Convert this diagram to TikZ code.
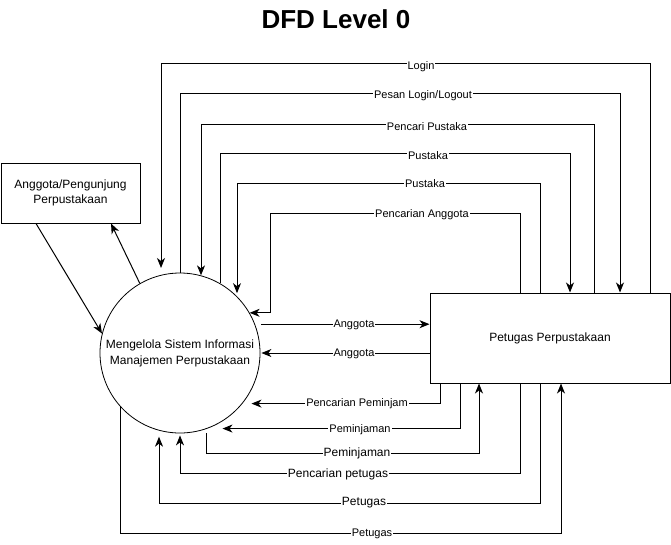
\documentclass[tikz,border=0pt]{standalone}
\usepackage{fontspec}
\setmainfont{Liberation Sans}
\usetikzlibrary{arrows.meta,positioning}

\begin{document}
\begin{tikzpicture}[x=1pt,y=-1pt,
  flow/.style={draw,line width=1pt,-{Stealth[length=10pt,width=8pt,inset=3pt]}},
  lbl/.style={fill=white,inner sep=1pt,font=\fontsize{11}{13}\selectfont},
  lblbig/.style={lbl,font=\fontsize{12}{14}\selectfont},
  entity/.style={draw,line width=1pt,align=center,font=\fontsize{12}{15}\selectfont},
  process/.style={draw,circle,line width=0.8pt,minimum size=160pt,inner sep=0pt,
    align=center,font=\fontsize{12}{16}\selectfont}]
  \useasboundingbox (0,0) rectangle (671,544);
  % title, process and the two entities
  \node[anchor=base,font=\bfseries\fontsize{26}{30}\selectfont] (title) at (336,28) {DFD Level 0};
  \node[process] (sim) at (180,353) {Mengelola Sistem Informasi\\Manajemen Perpustakaan};
  \node[entity,minimum width=139pt,minimum height=60pt] (member) at (70.5,193)
    {Anggota/Pengunjung\\Perpustakaan};
  \node[entity,minimum width=240pt,minimum height=90pt] (staff) at (550,338) {Petugas Perpustakaan};
  % flows over the top
  \draw[flow,shorten >=7pt] (staff.north -| 650,0) |- (161,63) -- (161,0 |- sim.104)
    node[lbl] at (421,67) {Login};
  \draw[flow] (sim.north) |- (620,93) -- (staff.north -| 620,0)
    node[lbl] at (423,96) {Pesan Login/Logout};
  \draw[flow] (staff.north -| 594,0) |- (201,124) -- (201,0 |- sim.75)
    node[lbl] at (427,127) {Pencari Pustaka};
  \draw[flow] (220,0 |- sim.60) |- (570,153) -- (staff.north -| 570,0)
    node[lbl] at (428,156) {Pustaka};
  \draw[flow,shorten >=3pt] (staff.north -| 540,0) |- (237,183) -- (237,0 |- sim.45)
    node[lbl] at (425,184) {Pustaka};
  \draw[flow] (staff.north -| 520,0) |- (270,213) |- (sim.30)
    node[lbl] at (422,215) {Pencarian Anggota};
  % straight flows
  \draw[flow,shorten <=6pt] (sim.21) -- (sim.21 -| staff.west)
    node[lbl] at (354,325) {Anggota};
  \draw[flow,shorten >=1pt] (staff.west |- sim.east) -- (sim.east)
    node[lbl] at (354,354) {Anggota};
  \draw[flow] (36,0 |- member.south) -- (sim.166);
  \draw[flow] (sim.120) -- (111,0 |- member.south);
  % flows under the bottom
  \draw[flow,shorten >=9pt] (staff.south -| 440,0) |- (sim.-39)
    node[lbl] at (357,404) {Pencarian Peminjam};
  \draw[flow,shorten >=15pt] (staff.south -| 460,0) |- (sim.-70)
    node[lbl] at (360,430) {Peminjaman};
  \draw[flow,shorten <=4pt] (206,0 |- sim.-71) |- (479,453) -- (staff.south -| 479,0)
    node[lblbig] at (357,453) {Peminjaman};
  \draw[flow,shorten >=2pt] (staff.south -| 520,0) |- (180,473) -- (sim.south)
    node[lblbig] at (338,474) {Pencarian petugas};
  \draw[flow,shorten >=6pt] (staff.south -| 540,0) |- (159,503) -- (159,0 |- sim.-105)
    node[lblbig] at (364,503) {Petugas};
  \draw[flow] (sim.-138) |- (561,533) -- (staff.south -| 561,0)
    node[lbl] at (372,534) {Petugas};
\end{tikzpicture}
\end{document}
